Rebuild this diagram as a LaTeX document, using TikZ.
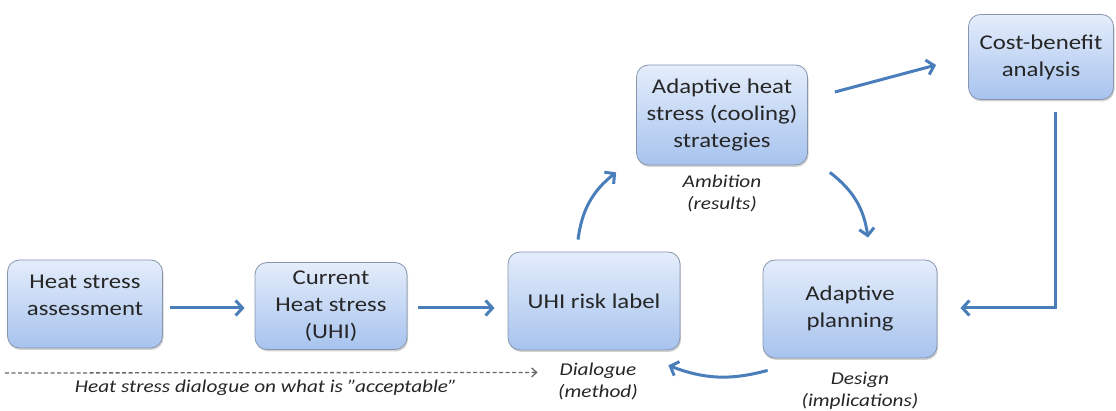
\documentclass[tikz,border=0pt]{standalone}
\usepackage{fontspec}
\setmainfont{Carlito}[FakeStretch=1.18]
\usepackage{tikz}
\usepackage{xcolor}
\usetikzlibrary{arrows.meta,shadows}
\definecolor{boxtop}{HTML}{E4EDFB}
\definecolor{boxbot}{HTML}{A7C3EE}
\definecolor{boxline}{HTML}{8796AD}
\definecolor{flowblue}{HTML}{4A7EBB}
\tikzset{%
  tipB/.tip={Straight Barb[length=7pt,width=15pt]},
  tipC/.tip={Straight Barb[length=5pt,width=9pt]},
  stage/.style={rounded corners=12pt, draw=boxline, line width=0.8pt,
    top color=boxtop, bottom color=boxbot, align=center, inner sep=0pt,
    font=\fontsize{21}{27}\selectfont, text=black!85,
    drop shadow={opacity=0.35, shadow xshift=1pt, shadow yshift=-2pt}},
  flow/.style={color=flowblue, line width=3pt, -tipB},
  note/.style={align=center, font=\fontsize{18}{22}\selectfont\itshape, text=black!85}
}

\begin{document}
\begin{tikzpicture}[x=1pt,y=1pt]
    \useasboundingbox (0,0) rectangle (1116,411);
    % boxes
    \node[stage, minimum width=155pt, minimum height=88pt] (hsa) at (85,107) {Heat stress\\assessment\\[-9pt]~};
    \node[stage, minimum width=152pt, minimum height=87pt] (chs) at (331,105) {Current\\Heat stress\\(UHI)};
    \node[stage, minimum width=172pt, minimum height=98pt] (uhi) at (594,110) {UHI risk label};
    \node[stage, minimum width=174pt, minimum height=98pt] (plan) at (850,102) {Adaptive\\planning};
    \node[stage, minimum width=171pt, minimum height=100pt] (strat) at (722,296) {Adaptive heat\\stress (cooling)\\strategies};
    \node[stage, minimum width=145pt, minimum height=85pt] (cost) at (1041,354) {\mbox{}\\[-11pt]Cost-benefit\\analysis};
    % notes
    \node[note] (ambition) at (722,218) {Ambition\\(results)};
    \node[note] (dialogue) at (598,30) {Dialogue\\(method)};
    \node[note] (design) at (860,20) {Design\\(implications)};
    \node[note] (accept) at (266,23) {Heat stress dialogue on what is "acceptable"};
    % arrows
    \draw[flow, shorten <=7pt, shorten >=10pt] (hsa.east |- 0,103) -- (chs.west |- 0,103);
    \draw[flow, shorten <=11pt, shorten >=13pt] (chs.east |- 0,103) -- (uhi.west |- 0,103);
    \draw[flow] ([xshift=-16pt,yshift=12pt]uhi.north) to[bend left=22] ([xshift=-20pt,yshift=-7pt]strat.south west);
    \draw[flow] ([xshift=22pt,yshift=-7pt]strat.south east) to[bend left=22] ([xshift=18pt,yshift=22pt]plan.north);
    \draw[flow] ([xshift=27pt,yshift=23pt]strat.east) -- ([xshift=-32pt,yshift=-8pt]cost.west);
    \draw[flow] ([xshift=14pt,yshift=-12pt]cost.south) |- ([xshift=23pt,yshift=1pt]plan.east);
    \draw[flow] ([xshift=5pt,yshift=-12pt]plan.south west) to[bend left=18] ([xshift=-12pt,yshift=-15pt]uhi.south east);
    % dashed dialogue line
    \coordinate (dstart) at (5,38);
    \draw[black!60, line width=1.3pt, dash pattern=on 4pt off 2.5pt, -tipC] (dstart) -- ([xshift=30pt,yshift=-22pt]uhi.south west);
\end{tikzpicture}
\end{document}
